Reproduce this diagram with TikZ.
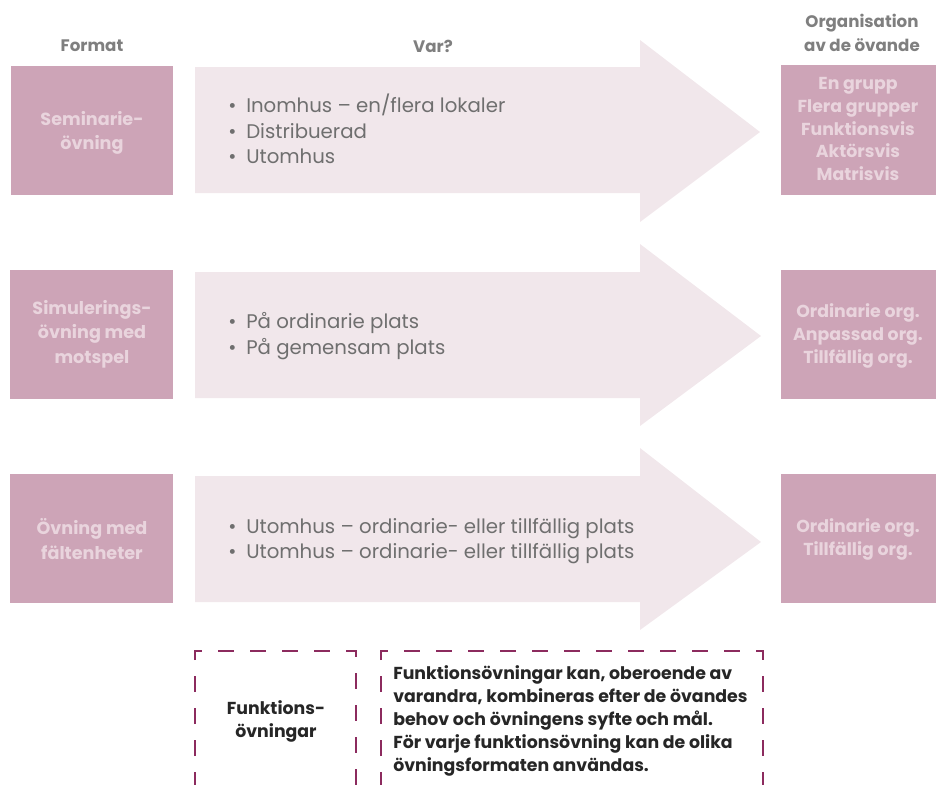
\documentclass[tikz,border=0pt]{standalone}
\usepackage{fontspec}
\setmainfont{Poppins}
\definecolor{boxpink}{HTML}{CDA4B7}
\definecolor{arrowpink}{HTML}{F1E7EB}
\definecolor{boxtext}{HTML}{E9D4DD}
\definecolor{headgray}{HTML}{7F7F7F}
\definecolor{listgray}{HTML}{6F6F6F}
\definecolor{plum}{HTML}{8C2B5E}
\tikzset{
  formatbox/.style={fill=boxpink, draw=none},
  boxlabel/.style={text=boxtext, font=\fontsize{13.2}{18.5}\selectfont\bfseries, align=center, inner sep=0pt},
  orglabel/.style={text=boxtext, font=\fontsize{13}{17.2}\selectfont\bfseries, align=center, inner sep=0pt},
  header/.style={text=headgray, font=\fontsize{12.5}{18.5}\selectfont\bfseries, align=center, inner sep=0pt},
  listtext/.style={text=listgray, font=\fontsize{14.8}{19}\selectfont, align=left, anchor=west, inner sep=0pt},
  dashbox/.style={draw=plum, line width=2pt, dash pattern=on 12pt off 12pt},
  notetext/.style={text=black!85, font=\fontsize{13}{17.3}\selectfont\bfseries, inner sep=0pt}
}
\newcommand{\blt}{\makebox[13.5pt][l]{\textbullet}}
\begin{document}
\begin{tikzpicture}[x=0.75pt, y=-0.75pt]
        \useasboundingbox (0,0) rectangle (936,785);
        \clip (0,0) rectangle (936,785);

        % headers
        \node[header] (hformat) at (92,46) {Format};
        \node[header] (hvar) at (433,46) {Var?};
        \node[header] (horg) at (862,33) {Organisation\\av de övande};

        % row 1
        \fill[formatbox] (11,66) rectangle (173,195);
        \fill[arrowpink] (195,67) -- (640,67) -- (640,40) -- (760,132) -- (640,222) -- (640,193) -- (195,193) -- cycle;
        \fill[formatbox] (781,65) rectangle (936,195);
        \node[boxlabel] (seminar) at (92,133) {Seminarie-\\övning};
        \node[listtext] (where1) at (228,129) {\blt Inomhus – en/flera lokaler\\\blt Distribuerad\\\blt Utomhus};
        \node[orglabel] (org1) at (858,129) {En grupp\\Flera grupper\\Funktionsvis\\Aktörsvis\\Matrisvis};

        % row 2
        \fill[formatbox] (10,270) rectangle (173,399);
        \fill[arrowpink] (195,272) -- (640,272) -- (640,244) -- (761,336) -- (640,426) -- (640,398) -- (195,398) -- cycle;
        \fill[formatbox] (781,270) rectangle (936,399);
        \node[boxlabel] (simul) at (92,334) {Simulerings-\\övning med\\motspel};
        \node[listtext] (where2) at (228,336) {\blt På ordinarie plats\\\blt På gemensam plats};
        \node[orglabel] (org2) at (858,336) {Ordinarie org.\\Anpassad org.\\Tillfällig org.};

        % row 3
        \fill[formatbox] (10,474) rectangle (173,603);
        \fill[arrowpink] (195,476) -- (640,476) -- (640,448) -- (761,542) -- (640,630) -- (640,602) -- (195,602) -- cycle;
        \fill[formatbox] (781,474) rectangle (936,603);
        \node[boxlabel] (falt) at (92,539) {Övning med\\fältenheter};
        \node[listtext] (where3) at (228,541) {\blt Utomhus – ordinarie- eller tillfällig plats\\\blt Utomhus – ordinarie- eller tillfällig plats};
        \node[orglabel] (org3) at (858,539) {Ordinarie org.\\Tillfällig org.};

        % function exercises
        \draw[dashbox] (195,820) -- (195,651) -- (356,651) -- (356,820);
        \draw[dashbox] (381,820) -- (381,651) -- (763,651) -- (763,820);
        \node[notetext, align=center] (funk) at (276,721) {Funktions-\\övningar};
        \node[notetext, align=left, anchor=west] (note) at (393,721) {Funktionsövningar kan, oberoende av\\varandra, kombineras efter de övandes\\behov och övningens syfte och mål.\\För varje funktionsövning kan de olika\\övningsformaten användas.};
    \end{tikzpicture}
\end{document}
